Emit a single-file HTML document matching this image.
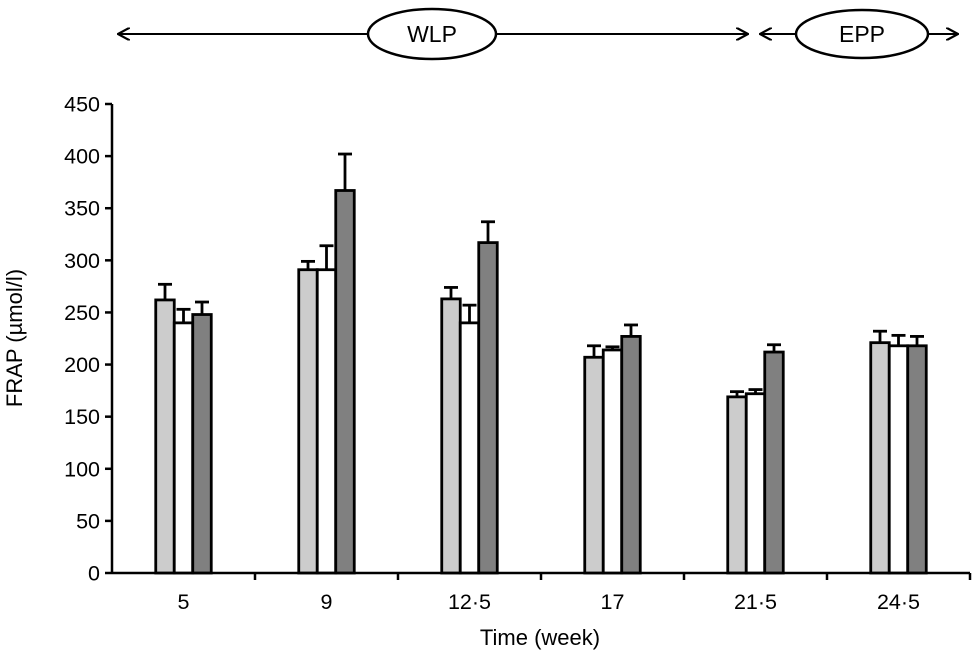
<!DOCTYPE html>
<html><head><meta charset="utf-8"><style>
body{margin:0;background:#fff}
svg text{font-family:"Liberation Sans",Arial,sans-serif;fill:#000}
</style></head><body>
<svg id="chart" width="974" height="652" viewBox="0 0 974 652" xmlns="http://www.w3.org/2000/svg">
<defs>
<marker id="ah" viewBox="0 0 12 12" refX="11" refY="6" markerWidth="13" markerHeight="13" orient="auto-start-reverse" markerUnits="userSpaceOnUse"><path d="M0,0 L11,6 L0,12" fill="none" stroke="#000" stroke-width="2"/></marker>
</defs>
<g>
<line x1="118" y1="34" x2="748" y2="34" stroke="#000" stroke-width="2" marker-start="url(#ah)" marker-end="url(#ah)"/>
<ellipse cx="432" cy="34" rx="64" ry="25" fill="#fff" stroke="#000" stroke-width="2.5"/>
<text x="432" y="42" font-size="23" text-anchor="middle">WLP</text>
<line x1="760" y1="34" x2="958" y2="34" stroke="#000" stroke-width="2" marker-start="url(#ah)" marker-end="url(#ah)"/>
<ellipse cx="862" cy="34" rx="66" ry="24" fill="#fff" stroke="#000" stroke-width="2.5"/>
<text x="862" y="42" font-size="23" text-anchor="middle">EPP</text>
</g>
<g id="axes"></g>
<g id="bars"></g>
<text x="540" y="645" font-size="22" text-anchor="middle">Time (week)</text>
<text transform="translate(22,338) rotate(-90)" font-size="22" text-anchor="middle">FRAP (µmol/l)</text>
</svg>
<script>
const categories = ["5","9","12·5","17","21·5","24·5"];
const series1 = [262,291,263,207,169,221];
const series2 = [240,291,240,214,172,218];
const series3 = [248,367,317,227,212,218];
const err1 = [15,8,11,11,5,11];
const err2 = [13,23,17,3,4,10];
const err3 = [12,35,20,11,7,9];
const yTicks = [0,50,100,150,200,250,300,350,400,450];

const NS="http://www.w3.org/2000/svg";
const x0=112,x1=970,y0=573,y1=104,yMax=450;
const y=v=>y0-(v/yMax)*(y0-y1);
const band=(x1-x0)/categories.length;
const xc=i=>x0+band*(i+0.5);
function mk(tag,attrs,parent){const e=document.createElementNS(NS,tag);for(const k in attrs)e.setAttribute(k,attrs[k]);parent.appendChild(e);return e;}
const ax=document.getElementById('axes');
let l=mk('line',{x1:x0,y1:y1,x2:x0,y2:y0,stroke:'#000','stroke-width':2.5},ax);


l=mk('line',{x1:x0,y1:y0,x2:x1,y2:y0,stroke:'#000','stroke-width':2.5},ax);


yTicks.forEach(t=>{
  const tk=mk('line',{x1:x0-7,y1:y(t),x2:x0,y2:y(t),stroke:'#000','stroke-width':2.5},ax);
  
  
  const tx=mk('text',{x:x0-12,y:y(t)+7.5,'font-size':21.5,'text-anchor':'end'},ax);
  tx.textContent=t;
  
  
});
categories.forEach((c,i)=>{
  const tk=mk('line',{x1:x0+band*(i+1),y1:y0,x2:x0+band*(i+1),y2:y0+7,stroke:'#000','stroke-width':2.5},ax);
  
  
  const tx=mk('text',{x:xc(i),y:y0+36,'font-size':21.5,'text-anchor':'middle'},ax);
  tx.textContent=c;
  
  
});
const bg=document.getElementById('bars');
const S=[[series1,err1,'#cccccc'],[series2,err2,'#ffffff'],[series3,err3,'#808080']];
const bw=18.5;
categories.forEach((c,i)=>{
  S.forEach(([vals,errs,col],k)=>{
    const bx=xc(i)-bw*1.5+k*bw;
    const cx=bx+bw/2;
    const ey=y(vals[i]+errs[i]);
    const el=mk('line',{x1:cx,y1:y(vals[i]),x2:cx,y2:ey,stroke:'#000','stroke-width':2.8},bg);
    
    
    const cp=mk('line',{x1:cx-7,y1:ey,x2:cx+7,y2:ey,stroke:'#000','stroke-width':2.8},bg);
    
    
  });
  S.forEach(([vals,errs,col],k)=>{
    const bx=xc(i)-bw*1.5+k*bw;
    const r=mk('rect',{x:bx,y:y(vals[i]),width:bw,height:y0-y(vals[i]),fill:col,stroke:'#000','stroke-width':2.8},bg);
    
    
  });
});
</script>
</body></html>
